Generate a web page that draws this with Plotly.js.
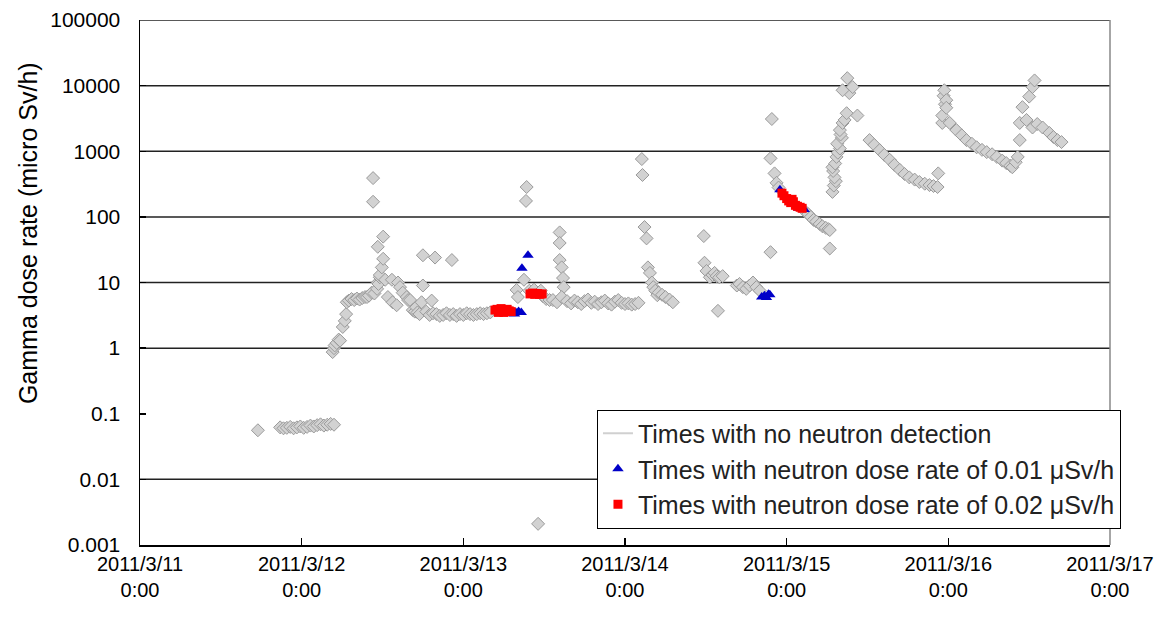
<!DOCTYPE html>
<html>
<head>
<meta charset="utf-8">
<script src="https://cdn.plot.ly/plotly-3.0.1.min.js"></script>
<style>html,body{margin:0;padding:0;background:#fff;}#chart{width:1167px;height:617px;}</style>
</head>
<body>
<div id="chart"></div>
<script>
// x values: hours elapsed since 2011/3/11 0:00
const grayHours = [
17.5,20.8,21.3,21.8,22.3,22.8,23.3,23.8,24.3,24.8,25.3,25.8,26.3,26.8,27.3,27.8,28.3,28.8,
28.6,28.8,28.9,29.2,29.5,29.7,30.1,30.4,30.6,30.7,31.0,31.4,31.8,32.2,32.6,33.0,33.4,33.7,34.0,34.4,34.8,
35.2,35.3,35.4,35.6,35.6,35.9,36.1,35.3,36.1,34.6,34.6,
36.4,36.8,37.4,37.5,38.1,38.3,38.6,39.0,39.6,39.8,40.1,40.5,40.8,41.0,41.2,41.5,41.8,42.0,42.0,42.5,43.0,43.3,43.5,43.8,
44.0,44.5,45.0,45.5,46.0,46.3,46.5,47.0,47.5,48.0,48.5,49.0,49.5,50.0,50.5,51.0,51.5,52.0,
55.9,56.1,57.0,57.3,57.4,57.8,58.5,59.5,59.1,59.8,60.3,60.8,61.3,61.9,
62.3,62.3,62.3,62.6,62.8,62.9,62.6,
63.4,64.0,64.5,65.0,65.5,66.0,66.5,67.0,67.5,68.0,68.5,69.0,69.5,70.0,70.5,71.0,71.5,72.0,72.5,73.0,73.5,74.0,
74.5,74.6,74.9,75.2,75.4,75.7,76.0,76.2,76.5,76.8,77.0,77.5,78.0,78.6,79.1,
83.7,83.8,84.1,84.6,85.0,85.3,85.6,85.8,86.0,86.5,
88.6,89.0,89.5,90.0,90.5,91.0,91.5,92.0,
93.6,93.6,93.8,94.2,94.5,94.8,
98.8,99.2,99.6,100.0,100.4,100.9,101.3,101.8,102.2,102.4,102.4,
102.8,103.0,103.3,103.1,102.9,102.8,103.2,103.4,103.6,103.9,103.5,104.2,104.0,103.9,104.3,104.6,104.9,106.5,105.3,104.3,105.8,105.0,
108.3,109.0,109.8,110.5,111.3,112.0,112.8,113.5,114.2,115.0,115.7,116.5,117.2,117.8,118.4,118.5,
119.1,119.1,119.3,119.4,119.5,119.7,119.7,
120.2,121.2,122.0,122.7,123.5,124.2,125.0,125.7,126.5,127.2,128.0,128.6,129.2,129.5,130.0,130.3,130.6,
130.6,131.0,131.6,132.0,132.5,132.8,132.5,133.2,134.0,135.0,135.6,136.2,136.8
];
const grayValues = [
0.056,0.062,0.060,0.061,0.063,0.060,0.062,0.064,0.061,0.063,0.066,0.064,0.067,0.069,0.066,0.068,0.070,0.068,
0.87,1.0,1.1,1.2,1.35,1.3,2.1,2.6,3.3,5.0,5.3,5.6,5.4,5.7,5.5,5.8,6.0,6.0,6.3,7.0,6.8,
8.0,10,9.5,12,13,17,23,35,50,170,390,
11,6.0,11,5.0,4.5,10,8.5,7.0,6.0,5.4,5.4,3.8,3.6,4.2,3.5,3.3,5.0,9.0,26,3.6,3.2,5.3,3.4,24,
3.3,3.1,3.2,3.4,3.2,22,3.3,3.1,3.3,3.2,3.4,3.3,3.2,3.3,3.4,3.3,3.4,3.5,
7.7,6.0,11,175,285,7.5,7.8,7.5,0.0021,6.2,5.6,5.4,5.4,5.0,
58,40,22,17,11.7,8.5,6.0,
5.2,4.8,5.3,5.0,4.7,5.2,5.5,4.9,5.1,4.7,5.0,5.3,4.8,4.6,5.1,5.4,4.9,4.7,4.8,4.6,4.7,4.9,
760,435,70,47,17,14,10,8.5,7.5,6.4,7.0,6.5,6.0,5.5,5.0,
51,20,15,12,13,14,12.5,3.7,12,12.5,
9.0,9.5,8.5,8.0,9.0,10,8.5,7.5,
29,780,3100,460,330,280,
120,110,100,90,85,78,72,68,65,63,33,
240,300,350,400,500,570,650,820,950,1100,1300,1600,1800,2100,2700,3000,3800,3500,7700,8500,9500,13000,
1480,1250,1040,880,740,620,520,450,400,370,340,320,305,295,285,460,
2700,3500,7000,8500,5200,6000,4600,
2700,2100,1750,1480,1300,1150,1050,970,900,820,720,660,600,570,680,820,1480,
2700,4700,3000,6800,9500,12000,2300,2600,2300,1900,1650,1480,1380
];
const blueHours = [53.5,54.6,55.3,55.6,55.8,56.2,56.6,56.7,57.6,92.3,92.7,93.0,93.3,93.5,95.0,97.8,98.6];
const blueValues = [3.4,3.4,3.5,3.3,3.5,3.6,3.5,16.5,26,6.0,6.3,5.9,6.6,6.5,260,135,130];
const redHours = [52.7,53.0,53.2,53.3,53.6,53.9,54.0,54.2,54.5,54.8,55.1,57.9,58.3,58.6,59.0,59.3,59.7,95.3,95.6,96.0,96.3,96.6,96.8,97.0,97.3,97.6,98.0,98.3];
const redValues = [3.8,3.9,3.5,3.7,4.0,3.8,3.5,3.6,3.9,3.7,3.6,6.7,6.9,6.6,6.8,6.6,6.7,230,210,190,175,165,185,170,150,145,140,135];

const xTickHours = [0,24,48,72,96,120,144];
const xTickLabels = ['2011/3/11<br>0:00','2011/3/12<br>0:00','2011/3/13<br>0:00','2011/3/14<br>0:00','2011/3/15<br>0:00','2011/3/16<br>0:00','2011/3/17<br>0:00'];
const yTickValues = [0.001,0.01,0.1,1,10,100,1000,10000,100000];
const yTickLabels = ['0.001','0.01','0.1','1','10','100','1000','10000','100000'];
const gridValues = [0.01,1,10,100,1000,10000,100000];

const seriesNames = ['Times with no neutron detection','Times with neutron dose rate of 0.01 μSv/h','Times with neutron dose rate of 0.02 μSv/h'];

const F = 'Liberation Sans, Arial, sans-serif';

const traces = [
  {x: grayHours, y: grayValues, type: 'scatter', mode: 'markers', showlegend: false, legendgroup: 'g',
   marker: {symbol: 'diamond', size: 10, color: '#d2d2d2', line: {color: '#9a9a9a', width: 1}}, hoverinfo: 'x+y'},
  {x: [null], y: [null], type: 'scatter', mode: 'lines', name: seriesNames[0], legendgroup: 'g',
   line: {color: '#d0d0d0', width: 2}},
  {x: blueHours, y: blueValues, type: 'scatter', mode: 'markers', name: seriesNames[1], legendgroup: 'b',
   marker: {symbol: 'triangle-up', size: 10, color: '#0000c8', line: {width: 0}}},
  {x: redHours, y: redValues, type: 'scatter', mode: 'markers', name: seriesNames[2], legendgroup: 'r',
   marker: {symbol: 'square', size: 9, color: '#ff0000', line: {width: 0}}}
];

const shapes = gridValues.map(v => ({type: 'line', xref: 'paper', x0: 0, x1: 1, yref: 'y', y0: v, y1: v,
  line: {color: '#222', width: 1.5}, layer: 'below'}));
shapes.push({type: 'line', xref: 'paper', x0: 1, x1: 1, yref: 'paper', y0: 0, y1: 1, line: {color: '#888', width: 1.5}, layer: 'above'});

const layout = {
  width: 1167, height: 617,
  margin: {l: 140, r: 57, t: 20, b: 72},
  paper_bgcolor: '#fff', plot_bgcolor: '#fff',
  font: {family: F, color: '#000', size: 21},
  showlegend: true,
  legend: {x: 0.4711, y: 0.258, xanchor: 'left', yanchor: 'top', bgcolor: '#fff', bordercolor: '#000', borderwidth: 1,
    font: {family: F, size: 25, color: '#222'}, traceorder: 'normal', itemwidth: 30},
  xaxis: {range: [0, 144], tickvals: xTickHours, ticktext: xTickLabels, showgrid: false, zeroline: false,
    showline: true, linecolor: '#000', linewidth: 2, ticks: 'inside', ticklen: 7, tickcolor: '#000', tickwidth: 1.5,
    tickfont: {family: F, size: 20, color: '#000'}, ticklabelstandoff: 0},
  yaxis: {type: 'log', range: [-3, 5], tickvals: yTickValues, ticktext: yTickLabels, showgrid: false, zeroline: false,
    showline: true, linecolor: '#000', linewidth: 1.5, ticks: 'inside', ticklen: 6, tickcolor: '#000', tickwidth: 1.5,
    tickfont: {family: F, size: 21, color: '#000'}, ticklabelstandoff: 14},
  shapes: shapes,
  annotations: [{text: 'Gamma dose rate (micro Sv/h)', xref: 'paper', yref: 'paper', x: -0.1155, y: 0.594,
    xanchor: 'center', yanchor: 'middle', textangle: -90, showarrow: false, font: {family: F, size: 25, color: '#000'}}]
};

Plotly.newPlot('chart', traces, layout, {displayModeBar: false, staticPlot: true});
</script>
</body>
</html>
